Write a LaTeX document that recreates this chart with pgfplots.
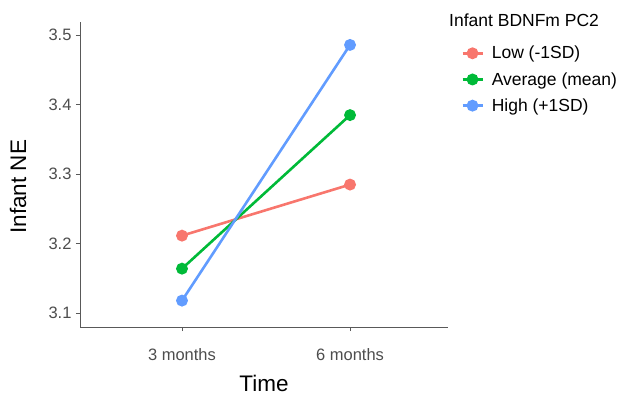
\documentclass[border=0pt]{standalone}
\usepackage{pgfplots}
\pgfplotsset{compat=1.18}
\usepackage{fontspec}
\setmainfont{Liberation Sans}
\definecolor{cLow}{HTML}{F8766D}
\definecolor{cAvg}{HTML}{00BA38}
\definecolor{cHigh}{HTML}{619CFF}
\definecolor{axgray}{HTML}{4D4D4D}
\begin{document}
\begin{tikzpicture}[x=1pt,y=1pt]
\path[use as bounding box] (0,0) rectangle (626,397);
\begin{axis}[
  at={(80pt,70pt)}, anchor=south west,
  scale only axis, width=368pt, height=305pt,
  xmin=0.393, xmax=2.583, ymin=3.080, ymax=3.519,
  axis lines*=left,
  axis line style={draw=black!65, line width=0.8pt},
  xtick={1,2}, xticklabels={3 months,6 months},
  ytick={3.1,3.2,3.3,3.4,3.5},
  yticklabel style={/pgf/number format/fixed,/pgf/number format/precision=1,/pgf/number format/fixed zerofill},
  /pgf/number format/assume math mode=true,
  tick align=outside, major tick length=4pt,
  tick style={draw=black!65, line width=0.8pt},
  ticklabel style={font=\fontsize{16.5}{19}\selectfont, text=axgray},
  xticklabel style={yshift=-14pt},
  yticklabel style={xshift=-1pt},
  xlabel={Time}, ylabel={Infant NE},
  label style={font=\fontsize{22.5}{26}\selectfont},
  xlabel style={at={(axis description cs:0.5,0)}, anchor=center, yshift=-56pt},
  ylabel style={at={(axis description cs:-0.168,0.46)}, anchor=center, rotate=0},
  legend style={at={(axis description cs:1,1)}, anchor=north west, xshift=13pt, yshift=-22pt,
    draw=none, fill=none, font=\fontsize{17.5}{20}\selectfont, row sep=8pt, inner sep=0pt,
    nodes={inner sep=2pt},
    /tikz/every odd column/.append style={column sep=6pt}},
  legend cell align=left,
  legend image code/.code={\draw[#1, mark repeat=2, mark phase=2] plot coordinates {(0pt,0pt) (10pt,0pt) (20pt,0pt)};},
  every axis plot/.append style={line width=2.6pt, mark=*, mark size=4.6pt, mark options={solid, line width=0pt}},
  clip=false,
]
\addplot[cLow, mark options={fill=cLow, draw=cLow}] coordinates {(1,3.2115) (2,3.285)};
\addlegendentry{Low (-1SD)}
\addplot[cAvg, mark options={fill=cAvg, draw=cAvg}] coordinates {(1,3.164) (2,3.385)};
\addlegendentry{Average (mean)}
\addplot[cHigh, mark options={fill=cHigh, draw=cHigh}] coordinates {(1,3.118) (2,3.486)};
\addlegendentry{High (+1SD)}
\end{axis}
\node[anchor=west, font=\fontsize{17.5}{20}\selectfont, inner sep=0pt] at (449, 377) {Infant BDNFm PC2};
\end{tikzpicture}
\end{document}
